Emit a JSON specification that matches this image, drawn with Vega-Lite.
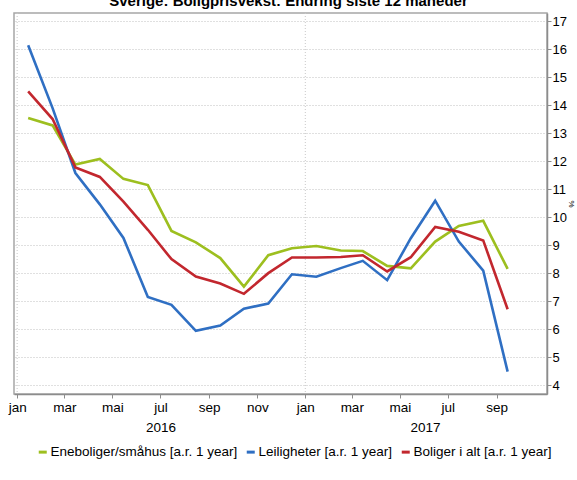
{
  "$schema": "https://vega.github.io/schema/vega-lite/v6.json",
  "width": 533,
  "height": 381,
  "autosize": {"type": "none"},
  "padding": {"left": 14, "top": 13, "right": 30, "bottom": 86},
  "background": "white",
  "title": {
    "text": "Sverige: Boligprisvekst: Endring siste 12 måneder",
    "font": "Liberation Sans",
    "fontSize": 15,
    "fontWeight": "bold",
    "color": "#000000",
    "anchor": "middle",
    "dx": 8,
    "offset": 4
  },
  "config": {
    "view": {"stroke": "#a6a6a6", "strokeWidth": 1.5},
    "font": "Liberation Sans",
    "axis": {
      "labelFont": "Liberation Sans",
      "labelColor": "#000000",
      "domainColor": "#8c8c8c",
      "tickColor": "#8c8c8c"
    }
  },
  "layer": [
    {
      "data": {
        "values": [
          {"date": "2016-01-01"},
          {"date": "2017-01-01"}
        ]
      },
      "mark": {"type": "rule", "color": "#c8c8c8", "strokeWidth": 1, "strokeDash": [1, 2]},
      "encoding": {
        "x": {
          "field": "date",
          "type": "temporal",
          "scale": {
            "type": "utc",
            "domain": [
              {"year": 2015, "month": 12, "date": 28, "utc": true},
              {"year": 2017, "month": 11, "date": 4, "utc": true}
            ]
          },
          "axis": {
            "orient": "bottom",
            "title": null,
            "grid": false,
            "domain": false,
            "ticks": false,
            "labelPadding": 26,
            "labelFontSize": 13.5,
            "labelFont": "Liberation Sans",
            "values": [
              {"year": 2016, "month": 7, "date": 1, "utc": true},
              {"year": 2017, "month": 6, "date": 2, "utc": true}
            ],
            "labelExpr": "utcFormat(datum.value, '%Y')"
          }
        }
      }
    },
    {
      "data": {
        "values": [
          {"date": "2016-01-15", "series": "Eneboliger/småhus [a.r. 1 year]", "value": 13.55},
          {"date": "2016-02-15", "series": "Eneboliger/småhus [a.r. 1 year]", "value": 13.28},
          {"date": "2016-03-15", "series": "Eneboliger/småhus [a.r. 1 year]", "value": 11.88},
          {"date": "2016-04-15", "series": "Eneboliger/småhus [a.r. 1 year]", "value": 12.08},
          {"date": "2016-05-15", "series": "Eneboliger/småhus [a.r. 1 year]", "value": 11.37},
          {"date": "2016-06-15", "series": "Eneboliger/småhus [a.r. 1 year]", "value": 11.15},
          {"date": "2016-07-15", "series": "Eneboliger/småhus [a.r. 1 year]", "value": 9.51},
          {"date": "2016-08-15", "series": "Eneboliger/småhus [a.r. 1 year]", "value": 9.1},
          {"date": "2016-09-15", "series": "Eneboliger/småhus [a.r. 1 year]", "value": 8.54},
          {"date": "2016-10-15", "series": "Eneboliger/småhus [a.r. 1 year]", "value": 7.52},
          {"date": "2016-11-15", "series": "Eneboliger/småhus [a.r. 1 year]", "value": 8.64},
          {"date": "2016-12-15", "series": "Eneboliger/småhus [a.r. 1 year]", "value": 8.89},
          {"date": "2017-01-15", "series": "Eneboliger/småhus [a.r. 1 year]", "value": 8.97},
          {"date": "2017-02-15", "series": "Eneboliger/småhus [a.r. 1 year]", "value": 8.81},
          {"date": "2017-03-15", "series": "Eneboliger/småhus [a.r. 1 year]", "value": 8.79},
          {"date": "2017-04-15", "series": "Eneboliger/småhus [a.r. 1 year]", "value": 8.26},
          {"date": "2017-05-15", "series": "Eneboliger/småhus [a.r. 1 year]", "value": 8.17},
          {"date": "2017-06-15", "series": "Eneboliger/småhus [a.r. 1 year]", "value": 9.13},
          {"date": "2017-07-15", "series": "Eneboliger/småhus [a.r. 1 year]", "value": 9.69},
          {"date": "2017-08-15", "series": "Eneboliger/småhus [a.r. 1 year]", "value": 9.87},
          {"date": "2017-09-15", "series": "Eneboliger/småhus [a.r. 1 year]", "value": 8.15},
          {"date": "2016-01-15", "series": "Leiligheter [a.r. 1 year]", "value": 16.15},
          {"date": "2016-02-15", "series": "Leiligheter [a.r. 1 year]", "value": 13.9},
          {"date": "2016-03-15", "series": "Leiligheter [a.r. 1 year]", "value": 11.58},
          {"date": "2016-04-15", "series": "Leiligheter [a.r. 1 year]", "value": 10.46},
          {"date": "2016-05-15", "series": "Leiligheter [a.r. 1 year]", "value": 9.26},
          {"date": "2016-06-15", "series": "Leiligheter [a.r. 1 year]", "value": 7.15},
          {"date": "2016-07-15", "series": "Leiligheter [a.r. 1 year]", "value": 6.87},
          {"date": "2016-08-15", "series": "Leiligheter [a.r. 1 year]", "value": 5.94},
          {"date": "2016-09-15", "series": "Leiligheter [a.r. 1 year]", "value": 6.13},
          {"date": "2016-10-15", "series": "Leiligheter [a.r. 1 year]", "value": 6.73},
          {"date": "2016-11-15", "series": "Leiligheter [a.r. 1 year]", "value": 6.91},
          {"date": "2016-12-15", "series": "Leiligheter [a.r. 1 year]", "value": 7.96},
          {"date": "2017-01-15", "series": "Leiligheter [a.r. 1 year]", "value": 7.87},
          {"date": "2017-02-15", "series": "Leiligheter [a.r. 1 year]", "value": 8.18},
          {"date": "2017-03-15", "series": "Leiligheter [a.r. 1 year]", "value": 8.44},
          {"date": "2017-04-15", "series": "Leiligheter [a.r. 1 year]", "value": 7.75},
          {"date": "2017-05-15", "series": "Leiligheter [a.r. 1 year]", "value": 9.25},
          {"date": "2017-06-15", "series": "Leiligheter [a.r. 1 year]", "value": 10.59},
          {"date": "2017-07-15", "series": "Leiligheter [a.r. 1 year]", "value": 9.13},
          {"date": "2017-08-15", "series": "Leiligheter [a.r. 1 year]", "value": 8.09},
          {"date": "2017-09-15", "series": "Leiligheter [a.r. 1 year]", "value": 4.48},
          {"date": "2016-01-15", "series": "Boliger i alt [a.r. 1 year]", "value": 14.5},
          {"date": "2016-02-15", "series": "Boliger i alt [a.r. 1 year]", "value": 13.51},
          {"date": "2016-03-15", "series": "Boliger i alt [a.r. 1 year]", "value": 11.78},
          {"date": "2016-04-15", "series": "Boliger i alt [a.r. 1 year]", "value": 11.44},
          {"date": "2016-05-15", "series": "Boliger i alt [a.r. 1 year]", "value": 10.56},
          {"date": "2016-06-15", "series": "Boliger i alt [a.r. 1 year]", "value": 9.55},
          {"date": "2016-07-15", "series": "Boliger i alt [a.r. 1 year]", "value": 8.5},
          {"date": "2016-08-15", "series": "Boliger i alt [a.r. 1 year]", "value": 7.88},
          {"date": "2016-09-15", "series": "Boliger i alt [a.r. 1 year]", "value": 7.63},
          {"date": "2016-10-15", "series": "Boliger i alt [a.r. 1 year]", "value": 7.26},
          {"date": "2016-11-15", "series": "Boliger i alt [a.r. 1 year]", "value": 8.0},
          {"date": "2016-12-15", "series": "Boliger i alt [a.r. 1 year]", "value": 8.56},
          {"date": "2017-01-15", "series": "Boliger i alt [a.r. 1 year]", "value": 8.56},
          {"date": "2017-02-15", "series": "Boliger i alt [a.r. 1 year]", "value": 8.58},
          {"date": "2017-03-15", "series": "Boliger i alt [a.r. 1 year]", "value": 8.64},
          {"date": "2017-04-15", "series": "Boliger i alt [a.r. 1 year]", "value": 8.06},
          {"date": "2017-05-15", "series": "Boliger i alt [a.r. 1 year]", "value": 8.57},
          {"date": "2017-06-15", "series": "Boliger i alt [a.r. 1 year]", "value": 9.65},
          {"date": "2017-07-15", "series": "Boliger i alt [a.r. 1 year]", "value": 9.48},
          {"date": "2017-08-15", "series": "Boliger i alt [a.r. 1 year]", "value": 9.17},
          {"date": "2017-09-15", "series": "Boliger i alt [a.r. 1 year]", "value": 6.71}
        ]
      },
      "mark": {"type": "line", "strokeWidth": 2.6},
      "encoding": {
        "x": {
          "field": "date",
          "type": "temporal",
          "scale": {
            "type": "utc",
            "domain": [
              {"year": 2015, "month": 12, "date": 28, "utc": true},
              {"year": 2017, "month": 11, "date": 4, "utc": true}
            ]
          },
          "axis": {
            "orient": "bottom",
            "title": null,
            "grid": false,
            "domain": true,
            "domainWidth": 1.5,
            "ticks": true,
            "tickSize": 4,
            "labelPadding": 2,
            "labelFontSize": 13.5,
            "labelFont": "Liberation Sans",
            "values": [
              {"year": 2016, "month": 1, "date": 1, "utc": true},
              {"year": 2016, "month": 3, "date": 1, "utc": true},
              {"year": 2016, "month": 5, "date": 1, "utc": true},
              {"year": 2016, "month": 7, "date": 1, "utc": true},
              {"year": 2016, "month": 9, "date": 1, "utc": true},
              {"year": 2016, "month": 11, "date": 1, "utc": true},
              {"year": 2017, "month": 1, "date": 1, "utc": true},
              {"year": 2017, "month": 3, "date": 1, "utc": true},
              {"year": 2017, "month": 5, "date": 1, "utc": true},
              {"year": 2017, "month": 7, "date": 1, "utc": true},
              {"year": 2017, "month": 9, "date": 1, "utc": true}
            ],
            "labelExpr": "['jan','feb','mar','apr','mai','jun','jul','aug','sep','okt','nov','des'][utcmonth(datum.value)]"
          }
        },
        "y": {
          "field": "value",
          "type": "quantitative",
          "scale": {"domain": [3.68, 17.3], "nice": false, "zero": false},
          "axis": {
            "orient": "right",
            "title": "%",
            "titleFontSize": 8,
            "titleFont": "Liberation Sans",
            "titleFontWeight": "normal",
            "titleColor": "#000000",
            "titlePadding": 0,
            "values": [4, 5, 6, 7, 8, 9, 10, 11, 12, 13, 14, 15, 16, 17],
            "grid": true,
            "gridColor": "#c0c0c0",
            "gridDash": [1, 2],
            "gridWidth": 1,
            "domainWidth": 1.5,
            "tickSize": 4,
            "labelPadding": 1,
            "labelFontSize": 13,
            "labelFont": "Liberation Sans"
          }
        },
        "color": {
          "field": "series",
          "type": "nominal",
          "sort": ["Eneboliger/småhus [a.r. 1 year]", "Leiligheter [a.r. 1 year]", "Boliger i alt [a.r. 1 year]"],
          "scale": {
            "domain": ["Eneboliger/småhus [a.r. 1 year]", "Leiligheter [a.r. 1 year]", "Boliger i alt [a.r. 1 year]"],
            "range": ["#9dbf1f", "#2f6fc3", "#c2272e"]
          },
          "legend": {
            "title": null,
            "orient": "none",
            "direction": "horizontal",
            "legendX": 22,
            "legendY": 432,
            "symbolType": "stroke",
            "symbolSize": 64,
            "symbolStrokeWidth": 3,
            "labelOffset": 1,
            "columnPadding": 2,
            "labelFont": "Liberation Sans",
            "labelFontSize": 13.5,
            "labelColor": "#000000",
            "labelLimit": 400
          }
        }
      }
    }
  ],
  "resolve": {"axis": {"x": "independent"}}
}
